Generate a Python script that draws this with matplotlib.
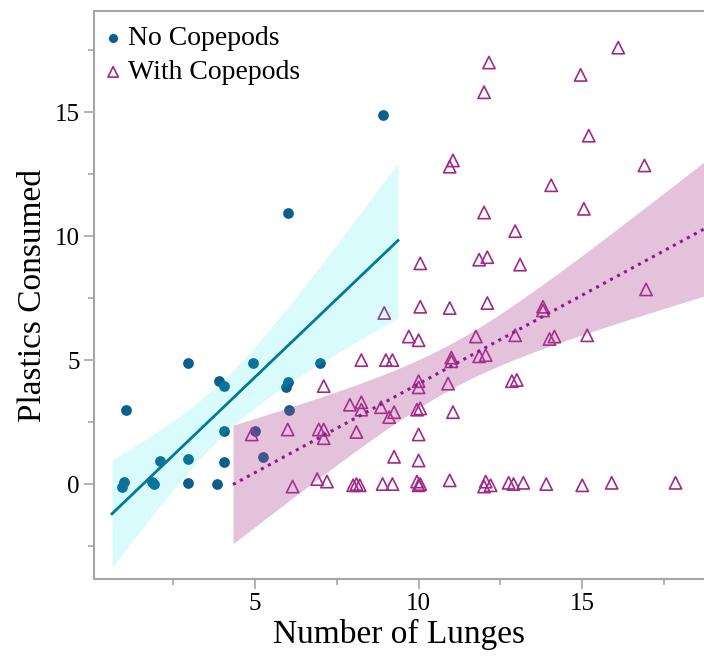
"""Plastics consumed vs number of lunges, with and without copepods."""

import matplotlib

matplotlib.use("Agg")
import matplotlib.pyplot as plt
import numpy as np

# no-copepod feeding bouts
no_x = [1.05, 1.0, 0.95, 2.1, 1.85, 1.9, 2.95, 2.95, 2.95, 3.9, 4.05, 4.05, 4.05, 3.85,
        4.95, 5.0, 5.25, 6.0, 5.95, 6.05, 7.0, 6.0, 8.9]
no_y = [3.0, 0.1, -0.1, 0.95, 0.1, 0.0, 4.9, 1.0, 0.05, 4.15, 3.95, 2.15, 0.9, 0.0,
        4.9, 2.15, 1.1, 4.1, 3.9, 3.0, 4.9, 10.95, 14.9]

# with-copepod feeding bouts
with_x = [16.1, 12.15, 14.95, 12.0, 15.2, 11.05, 10.95, 16.9, 14.05, 12.0, 15.05, 12.95,
          10.05, 11.85, 12.1, 13.1, 10.05, 10.95, 12.1, 13.8, 13.8, 16.95, 8.95,
          9.7, 10.0, 11.75, 12.95, 14.0, 14.15, 15.15, 9.2, 11.0, 11.0, 11.85, 12.05,
          10.0, 10.0, 10.9, 12.85, 13.0, 9.25, 9.95, 10.05, 11.05, 10.0, 9.25, 10.0,
          9.2, 9.95, 10.05, 10.0, 10.95, 12.05, 12.0, 12.2, 12.75, 12.9, 13.2, 13.9,
          15.0, 15.9, 17.85,
          8.25, 9.0, 7.1, 7.9, 8.25, 8.25, 8.85, 9.1, 6.0, 6.95, 7.1, 7.1, 8.1, 4.9,
          6.15, 6.9, 7.2, 8.0, 8.1, 8.2, 8.9]
with_y = [17.6, 17.0, 16.5, 15.8, 14.05, 13.05, 12.8, 12.85, 12.05, 10.95, 11.1, 10.2,
          8.9, 9.05, 9.15, 8.85, 7.15, 7.1, 7.3, 7.15, 7.0, 7.85, 6.9,
          5.95, 5.8, 5.95, 6.0, 5.85, 5.95, 6.0, 5.0, 5.1, 4.95, 5.15, 5.2,
          4.15, 3.9, 4.05, 4.15, 4.2, 2.9, 3.0, 3.05, 2.9, 2.0, 1.1, 0.95,
          0.0, 0.1, 0.0, -0.05, 0.15, 0.1, -0.1, -0.05, 0.05, 0.0, 0.05, 0.0,
          -0.05, 0.05, 0.05,
          5.0, 5.0, 3.95, 3.2, 3.3, 3.0, 3.1, 2.7, 2.2, 2.2, 2.2, 1.85, 2.1, 2.0,
          -0.1, 0.2, 0.1, -0.05, 0.0, -0.05, 0.0]

# x-span drawn for each fit line, and two-sided 95% t quantiles
no_span = (0.63, 9.37)
with_span = (4.33, 18.9)
T_NO = 2.080   # df = 21
T_WITH = 1.990  # df = 81

TEAL = "#0b5f8c"
MAGENTA = "#a0288a"
GREY = "#a6a6a6"


def fit_band(xs, ys, span, tcrit):
    """OLS line with 95% confidence band on the mean."""
    x = np.asarray(xs)
    y = np.asarray(ys)
    b, a = np.polyfit(x, y, 1)
    resid = y - (a + b * x)
    s = np.sqrt(resid @ resid / (len(x) - 2))
    sxx = ((x - x.mean()) ** 2).sum()
    grid = np.linspace(*span, 100)
    fit = a + b * grid
    half = tcrit * s * np.sqrt(1 / len(x) + (grid - x.mean()) ** 2 / sxx)
    return grid, fit, fit - half, fit + half


plt.rcParams["font.family"] = ["Liberation Serif", "DejaVu Serif"]
fig = plt.figure(figsize=(7.04, 6.58), dpi=100)
ax = fig.add_axes([0.133, 0.12, 0.867, 0.863])

ax.scatter(no_x, no_y, s=60, color=TEAL, linewidths=0, zorder=2, label="No Copepods")
ax.scatter(with_x, with_y, s=78, marker="^", facecolors="none", edgecolors=MAGENTA,
           linewidths=1.2, zorder=2, label="With Copepods")

g, f, lo, hi = fit_band(no_x, no_y, no_span, T_NO)
ax.fill_between(g, lo, hi, color="#00e8e8", alpha=0.15, linewidth=0, zorder=3)
ax.plot(g, f, color="#007a99", lw=2, zorder=4)

g, f, lo, hi = fit_band(with_x, with_y, with_span, T_WITH)
ax.fill_between(g, lo, hi, color="#b0428f", alpha=0.32, linewidth=0, zorder=3)
ax.plot(g, f, color="#8b1a8b", lw=2.2, ls=(0, (1, 1.6)), zorder=4)

ax.set_xlim(0.07, 18.72)
ax.set_ylim(-3.83, 19.07)
ax.set_xticks([5, 10, 15])
ax.set_yticks([0, 5, 10, 15])
ax.set_xticks(np.arange(2.5, 18.8, 5), minor=True)
ax.set_yticks(np.arange(-2.5, 19, 5), minor=True)
ax.tick_params(which="both", direction="out", color=GREY, width=1.2, labelsize=18,
               pad=3)
ax.tick_params(which="major", length=7)
ax.tick_params(which="minor", length=4)
for side in ("left", "bottom", "top"):
    ax.spines[side].set_color(GREY)
    ax.spines[side].set_linewidth(1.5)
ax.spines["right"].set_visible(False)

ax.set_xlabel("Number of Lunges", fontsize=24, labelpad=3)
ax.set_ylabel("Plastics Consumed", fontsize=24, labelpad=5)

ax.legend(loc="upper left", bbox_to_anchor=(0.016, 0.974), frameon=False, fontsize=20,
          borderpad=0, borderaxespad=0, handletextpad=0.18, labelspacing=0.3,
          handlelength=0.7, markerscale=0.85)

fig.savefig("out.png", dpi=100)
